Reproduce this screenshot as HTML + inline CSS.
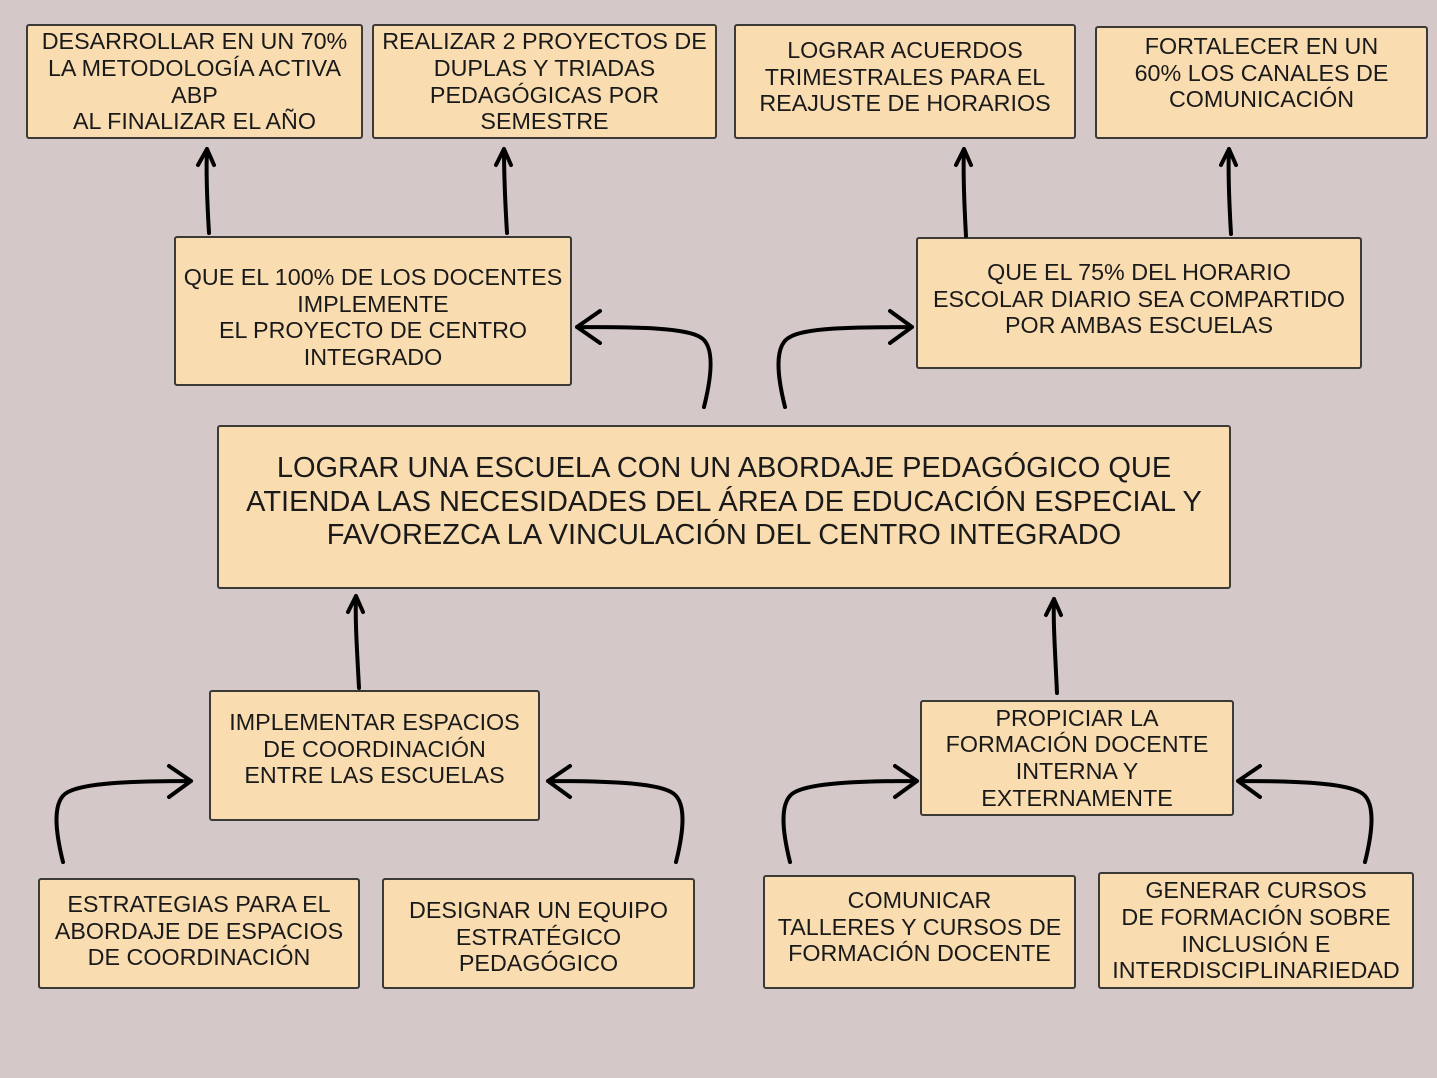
<!DOCTYPE html>
<html><head><meta charset="utf-8"><style>
body{margin:0;width:1437px;height:1078px;background:#d5c8c9;position:relative;overflow:hidden;font-family:"Liberation Sans",sans-serif;}
.b{position:absolute;box-sizing:border-box;background:#f9dcb0;border:2px solid #3c3a36;border-radius:3px;display:flex;align-items:center;justify-content:center;text-align:center;font-size:23.3px;line-height:26.6px;color:#1a1a1a;white-space:nowrap;}
svg{position:absolute;left:0;top:0}
</style></head><body>
<div class="b" style="left:26px;top:24px;width:337px;height:115px">DESARROLLAR EN UN 70%<br>LA METODOLOGÍA ACTIVA<br>ABP<br>AL FINALIZAR EL AÑO</div>
<div class="b" style="left:372px;top:24px;width:345px;height:115px">REALIZAR 2 PROYECTOS DE<br>DUPLAS Y TRIADAS<br>PEDAGÓGICAS POR<br>SEMESTRE</div>
<div class="b" style="left:734px;top:24px;width:342px;height:115px;align-items:flex-start;padding-top:11px">LOGRAR ACUERDOS<br>TRIMESTRALES PARA EL<br>REAJUSTE DE HORARIOS</div>
<div class="b" style="left:1095px;top:26px;width:333px;height:113px;align-items:flex-start;padding-top:5px">FORTALECER EN UN<br>60% LOS CANALES DE<br>COMUNICACIÓN</div>
<div class="b" style="left:174px;top:236px;width:398px;height:150px;align-items:flex-start;padding-top:26px">QUE EL 100% DE LOS DOCENTES<br>IMPLEMENTE<br>EL PROYECTO DE CENTRO<br>INTEGRADO</div>
<div class="b" style="left:916px;top:237px;width:446px;height:132px;align-items:flex-start;padding-top:20px">QUE EL 75% DEL HORARIO<br>ESCOLAR DIARIO SEA COMPARTIDO<br>POR AMBAS ESCUELAS</div>
<div class="b" style="left:217px;top:425px;width:1014px;height:164px;font-size:29px;line-height:33.5px;align-items:flex-start;padding-top:25px">LOGRAR UNA ESCUELA CON UN ABORDAJE PEDAGÓGICO QUE<br>ATIENDA LAS NECESIDADES DEL ÁREA DE EDUCACIÓN ESPECIAL Y<br>FAVOREZCA LA VINCULACIÓN DEL CENTRO INTEGRADO</div>
<div class="b" style="left:209px;top:690px;width:331px;height:131px;align-items:flex-start;padding-top:17px">IMPLEMENTAR ESPACIOS<br>DE COORDINACIÓN<br>ENTRE LAS ESCUELAS</div>
<div class="b" style="left:920px;top:700px;width:314px;height:116px">PROPICIAR LA<br>FORMACIÓN DOCENTE<br>INTERNA Y<br>EXTERNAMENTE</div>
<div class="b" style="left:38px;top:878px;width:322px;height:111px;align-items:flex-start;padding-top:11px">ESTRATEGIAS PARA EL<br>ABORDAJE DE ESPACIOS<br>DE COORDINACIÓN</div>
<div class="b" style="left:382px;top:878px;width:313px;height:111px;align-items:flex-start;padding-top:17px">DESIGNAR UN EQUIPO<br>ESTRATÉGICO<br>PEDAGÓGICO</div>
<div class="b" style="left:763px;top:875px;width:313px;height:114px;align-items:flex-start;padding-top:10px">COMUNICAR<br>TALLERES Y CURSOS DE<br>FORMACIÓN DOCENTE</div>
<div class="b" style="left:1098px;top:872px;width:316px;height:117px">GENERAR CURSOS<br>DE FORMACIÓN SOBRE<br>INCLUSIÓN E<br>INTERDISCIPLINARIEDAD</div>
<svg width="1437" height="1078" fill="none" stroke="#000" stroke-width="4" stroke-linecap="round" stroke-linejoin="round">
<path d="M209,233 C207,200 206,170 207,149 M198,165 L207,149 L214,165"/>
<path d="M507,233 C505,200 504,170 504,149 M496,165 L504,149 L511,165"/>
<path d="M966,236 C964,200 963,170 964,149 M956,165 L964,149 L971,165"/>
<path d="M1231,234 C1229,200 1228,170 1229,149 M1221,165 L1229,149 L1236,165"/>
<path d="M359,688 C357,650 355,620 356,596 M348,612 L356,596 L363,612"/>
<path d="M1057,693 C1055,650 1053,620 1054,599 M1046,615 L1054,599 L1061,615"/>
<path d="M704,407 C712,375 715,345 700,337 C685,328 640,327 577,327 M600,311 L577,327 L600,343"/>
<path d="M785,407 C777,375 774,345 790,337 C805,328 850,327 912,327 M890,311 L912,327 L890,343"/>
<path d="M63,862 C55,830 52,800 68,792 C85,783 130,781 191,781 M169,766 L191,781 L169,797"/>
<path d="M676,862 C684,830 687,800 671,792 C655,783 610,781 548,781 M570,766 L548,781 L570,797"/>
<path d="M790,862 C782,830 779,800 795,792 C812,783 857,781 917,781 M895,766 L917,781 L895,797"/>
<path d="M1365,862 C1373,830 1376,800 1360,792 C1343,783 1298,781 1238,781 M1260,766 L1238,781 L1260,797"/>
</svg>
</body></html>
